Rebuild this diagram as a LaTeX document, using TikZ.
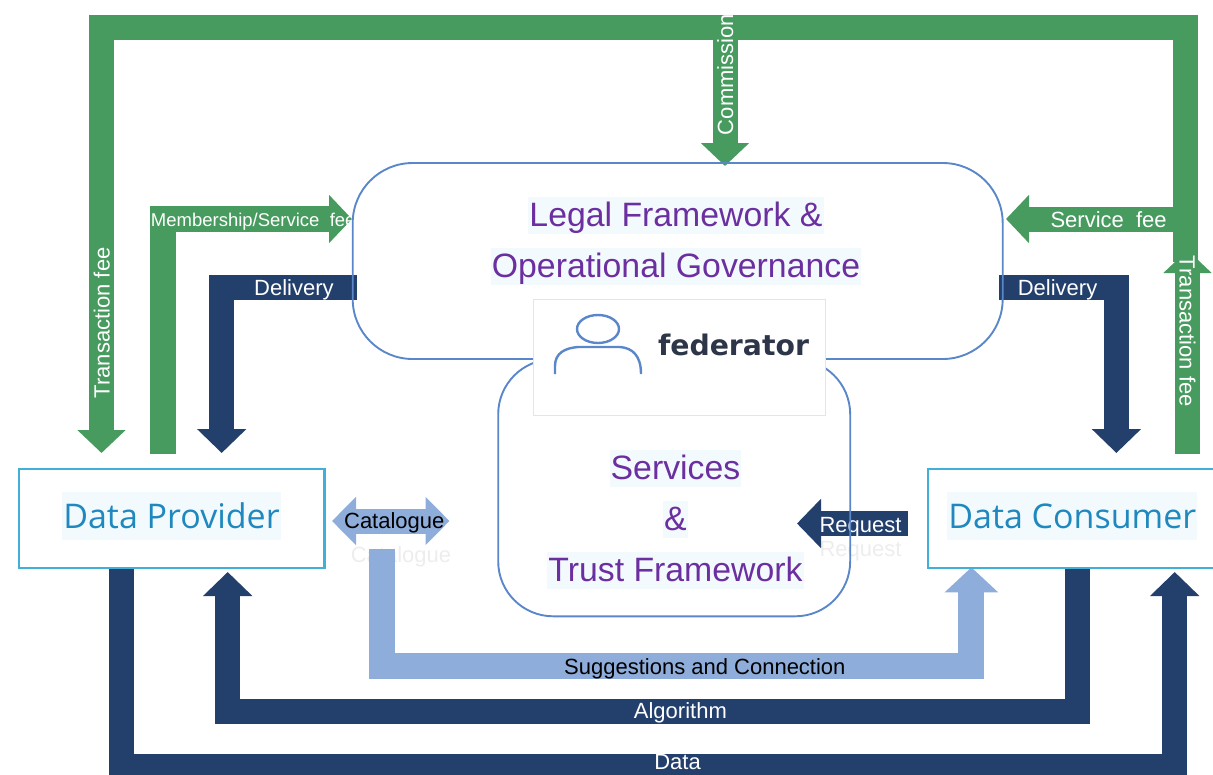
\documentclass[tikz,border=0pt]{standalone}
\usepackage{fontspec}
\setmainfont{Liberation Sans}
\newfontfamily\partyfont{Open Sans}
\newfontfamily\fedfont{DejaVu Sans}
\usetikzlibrary{arrows.meta, positioning, calc, backgrounds}
\definecolor{feegreen}{HTML}{489B5F}
\definecolor{flownavy}{HTML}{23406D}
\definecolor{flowsky}{HTML}{8FADDA}
\definecolor{framelilac}{HTML}{5A87CA}
\definecolor{partycyan}{HTML}{41B0D8}
\definecolor{partytext}{HTML}{1F88BF}
\definecolor{titlepurple}{HTML}{6B2FA0}
\definecolor{tagtint}{HTML}{F3FAFD}
\definecolor{fedtext}{HTML}{2D3548}

\begin{document}
\begin{tikzpicture}[
    x=1pt, y=-1pt,
    frame/.style={rectangle, draw=framelilac, line width=1.9pt, rounded corners=60pt, inner sep=0pt},
    party/.style={rectangle, draw=partycyan, line width=2.6pt, minimum width=305.5pt, minimum height=99pt, inner sep=0pt},
    partytag/.style={fill=tagtint, text=partytext, inner xsep=1pt, inner ysep=0pt, text height=36.8pt, text depth=11.2pt,
                     font=\partyfont\fontsize{34}{38}\selectfont},
    titletag/.style={fill=tagtint, text=titlepurple, inner xsep=1pt, inner ysep=2.5pt, text height=27pt, text depth=5pt,
                     font=\fontsize{33.8}{38}\selectfont},
    greenflow/.style={draw=feegreen, line width=25pt, -{Triangle[length=23pt, width=47pt]}},
    navyflow/.style={draw=flownavy, line width=25pt, -{Triangle[length=24pt, width=48pt]}},
    skyflow/.style={draw=flowsky, line width=26pt, -{Triangle[length=25pt, width=52pt]}},
    whitelabel/.style={text=white, inner sep=0pt, text height=16pt, text depth=0pt, font=\fontsize{22}{26}\selectfont},
    blacklabel/.style={text=black, inner sep=0pt, text height=16pt, text depth=0pt, font=\fontsize{22}{26}\selectfont},
    ghost/.style={text=black!7, inner sep=0pt, font=\fontsize{22}{26}\selectfont},
  ]
  \useasboundingbox (0,0) rectangle (1213,774);

  % Parties
  \node[party] (provider) at (171.6,518.4) {};
  \node[party, right=601pt of provider] (consumer) {};
  \node[partytag] (providertag) at (171.5,515.5) {Data Provider};
  \node[partytag] (consumertag) at (1072.3,515.5) {Data Consumer};

  % Federator frames
  \node[frame, minimum width=650pt, minimum height=196pt] (legal) at (677.7,261) {};
  \node[frame, minimum width=352pt, minimum height=257pt, rounded corners=55pt, below=-1.6pt of legal, xshift=-3.5pt] (trust) {};
  \node[rectangle, draw=black!10, fill=white, minimum width=292pt, minimum height=116pt] (federator) at (678.7,357) {};

  \node[titletag] (legaltag) at (676,215.5) {Legal Framework \&};
  \node[titletag] (govtag) at (676,266.5) {Operational Governance};
  \node[titletag] (servicetag) at (675.5,468.3) {Services};
  \node[titletag] (andtag) at (675.5,519) {\&};
  \node[titletag] (trusttag) at (675.5,570) {Trust Framework};

  % Federator icon
  \draw[framelilac, line width=2.4pt] (598,329) ellipse [x radius=21, y radius=14];
  \draw[framelilac, line width=2.4pt] (555,374) -- (555,366) .. controls (555,353) and (565,348) .. (578,347)
    -- (620,347) .. controls (632,348) and (641,355) .. (641,374);
  \node[text=fedtext, inner sep=0pt, font=\fedfont\bfseries\fontsize{28.3}{32}\selectfont] (fedlabel) at (733.5,345) {federator};

  % Anchors of the flows
  \coordinate (topright) at (1185.5,27.5);
  \coordinate (topleft) at (101.5,27.5);
  \coordinate (feedown) at (1185.5,262);
  \coordinate (providerfee) at (101.5,453);
  \coordinate (memberstart) at (162.8,453.7);
  \coordinate (membertip) at (352,219);
  \coordinate (commissionstart) at (725,27.5);
  \coordinate (commissiontip) at (725,166);
  \coordinate (servicestart) at (1186,219);
  \coordinate (servicetip) at (1006,219);
  \coordinate (consumerfee) at (1187.5,453.5);
  \coordinate (consumerfeetip) at (1187.5,250);
  \coordinate (deliveryleft) at (357.4,287.3);
  \coordinate (deliveryltip) at (221.7,453);
  \coordinate (deliveryright) at (998.7,287.3);
  \coordinate (deliveryrtip) at (1116.4,453);
  \coordinate (requeststart) at (908,523.5);
  \coordinate (requesttip) at (797,523.5);
  \coordinate (catalogueleft) at (332,521);
  \coordinate (catalogueright) at (449.5,521);
  \coordinate (sugstart) at (381.7,549.3);
  \coordinate (sugleft) at (381.7,666.3);
  \coordinate (sugright) at (971.4,666.3);
  \coordinate (sugtip) at (971.4,567.3);
  \coordinate (algoright) at (1077,711.3);
  \coordinate (algoleft) at (227.7,711.3);
  \coordinate (algotip) at (227.7,572);
  \coordinate (dataleft) at (121.5,766);
  \coordinate (dataright) at (1174.7,766);
  \coordinate (datatip) at (1174.7,572);

  \begin{scope}[on background layer]
    \node[ghost] (catghost) at (401,557) {Catalogue};
    \node[ghost] (reqghost) at (860.5,551) {Request};

    \draw[greenflow] (feedown) -- (topright) -- (topleft) -- node[whitelabel, rotate=90, pos=.694] {Transaction fee} (providerfee);
    \draw[greenflow] (commissionstart) -- node[whitelabel, rotate=90, pos=.34] {Commission} (commissiontip);
    \draw[greenflow] (servicestart) -- node[whitelabel, pos=.43] {Service~~fee} (servicetip);
    \draw[greenflow] (consumerfee) -- node[whitelabel, rotate=-90, pos=.6] {Transaction fee} (consumerfeetip);
    \draw[greenflow, line width=25.5pt] (memberstart) |- node[whitelabel, pos=.739, text height=15pt, font=\fontsize{18.5}{22}\selectfont] {Membership/Service~~fee} (membertip);

    \draw[navyflow] (deliveryleft) -| node[whitelabel, pos=.234] {Delivery} (deliveryltip);
    \draw[navyflow] (deliveryright) -| node[whitelabel, pos=.25] {Delivery} (deliveryrtip);
    \draw[navyflow] (requeststart) -- node[whitelabel, pos=.428, text height=18pt] {Request} (requesttip);
    \draw[navyflow] (algoright |- consumer.south) -- (algoright) -- node[whitelabel, pos=.467, text height=14pt] {Algorithm} (algoleft) -- (algotip);
    \draw[navyflow] (dataleft |- provider.south) -- (dataleft) -- node[whitelabel, pos=.528, text height=6pt] {Data} (dataright) -- (datatip);

    \draw[skyflow, {Triangle[length=24pt, width=47pt]}-{Triangle[length=24pt, width=47pt]}, line width=25pt] (catalogueleft) -- node[blacklabel, pos=.53, text height=15pt] {Catalogue} (catalogueright);
    \draw[skyflow] (sugstart) -- (sugleft) -- node[blacklabel, pos=.548, text height=17pt] {Suggestions and Connection} (sugright) -- (sugtip);
  \end{scope}

\end{tikzpicture}
\end{document}
